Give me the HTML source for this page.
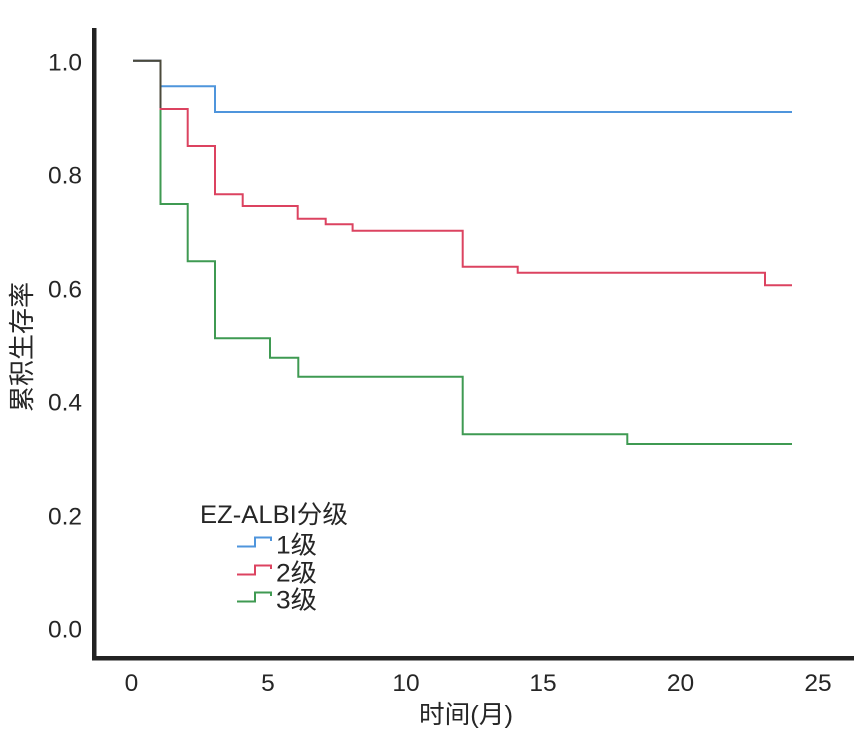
<!DOCTYPE html>
<html>
<head>
<meta charset="utf-8">
<style>
  html, body { margin:0; padding:0; background:#fff; }
  svg { display:block; }
  text { font-family: "Liberation Sans", "Noto Sans CJK SC", sans-serif; fill:#262626; }
</style>
</head>
<body>
<svg width="863" height="733" viewBox="0 0 863 733" xmlns="http://www.w3.org/2000/svg">
  <rect x="0" y="0" width="863" height="733" fill="#fff"/>

  <!-- series -->
  <g fill="none" stroke-width="2" stroke-linejoin="miter">
    <path d="M133,60.7 H160.5 V204 H187.7 V261.3 H215 V338.3 H270 V357.7 H298.3 V376.7 H462.7 V434.3 H627.3 V444 H792" stroke="#3f9a52"/>
    <path d="M133,60.7 H160.5 V109 H187.7 V146 H215 V194.3 H242.7 V206 H297.7 V218.7 H325.7 V224.3 H352.6 V230.7 H462.7 V266.7 H517.7 V272.7 H765 V285.3 H792" stroke="#dc4360"/>
    <path d="M133,60.7 H160.5 V86.3 H215 V112 H792" stroke="#4f95dc"/>
    <path d="M133,60.7 H160.5 V108" stroke="#4b4a3b"/>
  </g>

  <!-- spines -->
  <rect x="92" y="28" width="4.5" height="632" fill="#222"/>
  <rect x="92" y="656" width="762" height="4.5" fill="#222"/>

  <!-- y tick labels -->
  <g font-size="24.5" text-anchor="end">
    <text x="82" y="70.5">1.0</text>
    <text x="82" y="183.5">0.8</text>
    <text x="82" y="297.5">0.6</text>
    <text x="82" y="410.5">0.4</text>
    <text x="82" y="524.5">0.2</text>
    <text x="82" y="637.5">0.0</text>
  </g>

  <!-- x tick labels -->
  <g font-size="24.5" text-anchor="middle">
    <text x="131.5" y="691">0</text>
    <text x="268" y="691">5</text>
    <text x="406" y="691">10</text>
    <text x="543" y="691">15</text>
    <text x="680.5" y="691">20</text>
    <text x="818" y="691">25</text>
  </g>

  <!-- axis labels -->
  <text x="466" y="723" font-size="25" text-anchor="middle" textLength="94" lengthAdjust="spacingAndGlyphs">时间(月)</text>
  <text transform="translate(31,347) rotate(-90)" font-size="26" text-anchor="middle" textLength="130" lengthAdjust="spacingAndGlyphs">累积生存率</text>

  <!-- legend -->
  <text x="200" y="523" font-size="25" textLength="148" lengthAdjust="spacingAndGlyphs">EZ-ALBI分级</text>
  <g fill="none" stroke-width="2">
    <path d="M237,546.5 H255 V537.5 H271 V541" stroke="#4f95dc"/>
    <path d="M237,574.5 H255 V565.5 H271 V569" stroke="#dc4360"/>
    <path d="M237,601.5 H255 V592.5 H271 V596" stroke="#3f9a52"/>
  </g>
  <g font-size="25">
    <text x="276" y="553.5" textLength="41" lengthAdjust="spacingAndGlyphs">1级</text>
    <text x="276" y="581.5" textLength="41" lengthAdjust="spacingAndGlyphs">2级</text>
    <text x="276" y="608.5" textLength="41" lengthAdjust="spacingAndGlyphs">3级</text>
  </g>
</svg>
</body>
</html>
